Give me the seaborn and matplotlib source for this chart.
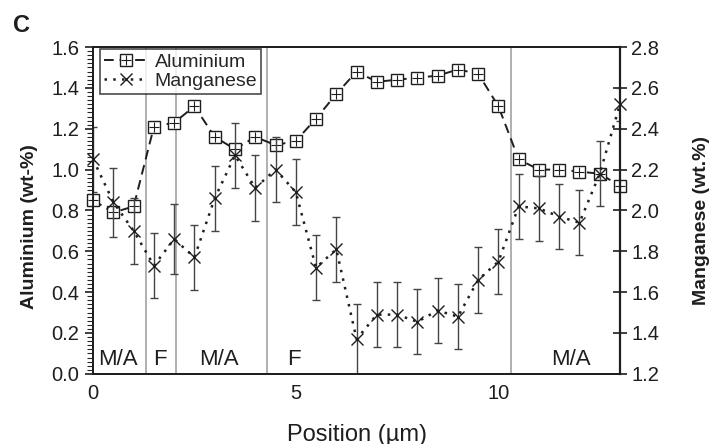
import numpy as np
import pandas as pd
import matplotlib
matplotlib.use("Agg")
import matplotlib.pyplot as plt
from matplotlib.lines import Line2D
from matplotlib.ticker import MultipleLocator, FormatStrFormatter
import seaborn as sns

sns.set_theme(style="white")
plt.rcParams['font.family'] = ['Liberation Sans', 'DejaVu Sans']

position = [0, 0.5, 1, 1.5, 2, 2.5, 3, 3.5, 4, 4.5, 5, 5.5, 6, 6.5, 7, 7.5, 8,
            8.5, 9, 9.5, 10, 10.5, 11, 11.5, 12, 12.5, 13]
aluminium = [0.85, 0.79, 0.82, 1.21, 1.23, 1.31, 1.16, 1.10, 1.16, 1.12, 1.14,
             1.25, 1.37, 1.48, 1.43, 1.44, 1.45, 1.46, 1.49, 1.47, 1.31, 1.05,
             1.00, 1.00, 0.99, 0.98, 0.92]
manganese = [2.25, 2.04, 1.90, 1.73, 1.86, 1.77, 2.06, 2.27, 2.11, 2.20, 2.09,
             1.72, 1.81, 1.37, 1.49, 1.49, 1.455, 1.51, 1.48, 1.66, 1.75, 2.02,
             2.01, 1.97, 1.94, 2.18, 2.52]
mn_error = [0.16, 0.17, 0.16, 0.16, 0.17, 0.16, 0.16, 0.16, 0.16, 0.16, 0.16,
            0.16, 0.16, 0.17, 0.16, 0.16, 0.16, 0.16, 0.16, 0.16, 0.16, 0.16,
            0.16, 0.16, 0.16, 0.16, 0.08]
boundaries = [1.3, 2.05, 4.3, 10.3]
region_labels = ["M/A", "F", "M/A", "F", "M/A"]
region_x = [0.6, 1.65, 3.1, 4.95, 11.8]

df = pd.DataFrame({"position": position, "aluminium": aluminium,
                   "manganese": manganese, "err": mn_error})

INK = "#1e1e1e"
fig = plt.figure(figsize=(7.11, 4.44), dpi=100)
ax = fig.add_axes([0.131, 0.158, 0.741, 0.736])
ax2 = ax.twinx()

TICK_FS = 14.5
# boundaries
for b in boundaries:
    ax.axvline(b, color="#9a9a9a", lw=1.1, zorder=1)

# Aluminium
sns.lineplot(data=df, x="position", y="aluminium", ax=ax, color=INK,
             lw=1.4, linestyle=(0, (5, 3)), marker="s",
             markersize=9, markerfacecolor="white", markeredgecolor=INK,
             markeredgewidth=1.0, zorder=4, legend=False, clip_on=False)
ax.plot(df["position"], df["aluminium"], ls="none", marker="+", ms=7,
        mew=0.8, color=INK, zorder=5, clip_on=False)

# Manganese
ax2.errorbar(df["position"], df["manganese"], yerr=df["err"], fmt="none",
             ecolor="#444444", elinewidth=1.0, capsize=3, capthick=1.0,
             zorder=2)
sns.lineplot(data=df, x="position", y="manganese", ax=ax2, color=INK,
             lw=1.8, linestyle=(0, (1, 2.5)), marker="x", markersize=8,
             markeredgewidth=1.0, markeredgecolor=INK, zorder=3,
             legend=False, clip_on=False)

for lbl, xx in zip(region_labels, region_x):
    ax.text(xx, 0.045, lbl, ha="center", va="baseline", fontsize=16,
            color=INK)

ax.set_xlim(0, 13)
ax.set_ylim(0, 1.6)
ax2.set_ylim(1.2, 2.8)
ax.xaxis.set_major_locator(MultipleLocator(5))
ax.xaxis.set_minor_locator(MultipleLocator(1))
ax.yaxis.set_major_locator(MultipleLocator(0.2))
ax.yaxis.set_minor_locator(MultipleLocator(0.02))
ax2.yaxis.set_major_locator(MultipleLocator(0.2))
ax.yaxis.set_major_formatter(FormatStrFormatter("%.1f"))
ax2.yaxis.set_major_formatter(FormatStrFormatter("%.1f"))

ax.tick_params(axis="x", which="major", direction="inout", length=9, width=1.2,
               labelsize=TICK_FS, pad=3, colors=INK)
ax.tick_params(axis="x", which="minor", direction="inout", length=9, width=1.2)
ax.tick_params(axis="y", which="major", direction="out", length=6, width=1.2,
               labelsize=TICK_FS, colors=INK, pad=4)
ax.tick_params(axis="y", which="minor", direction="out", length=4, width=0.8)
ax2.tick_params(axis="y", which="major", direction="inout", length=10,
                width=1.2, labelsize=TICK_FS, colors=INK, pad=3)

for a in (ax, ax2):
    for sp in a.spines.values():
        sp.set_color(INK)
        sp.set_linewidth(1.3)
ax2.spines["right"].set_linewidth(1.6)

ax.set_xlabel("Position (µm)", fontsize=17, color=INK)
ax.xaxis.set_label_coords(0.5, -0.152)
ax.set_ylabel("Aluminium (wt-%)", fontsize=14, fontweight="bold", color=INK)
ax.yaxis.set_label_coords(-0.104, 0.45)
ax2.set_ylabel("Manganese (wt.%)", fontsize=14, fontweight="bold", color=INK)
ax2.yaxis.set_label_coords(1.138, 0.468)

fig.text(0.018, 0.928, "C", fontsize=17, fontweight="bold", color=INK)

h1 = (Line2D([], [], color=INK, lw=1.4, ls=(0, (5, 3)), marker="s",
             ms=9, mfc="white", mec=INK, mew=1.0),
      Line2D([], [], ls="none", marker="+", ms=7, mew=0.8, color=INK))
h2 = Line2D([], [], color=INK, lw=1.8, ls=(0, (1, 2.5)), marker="x",
            ms=8, mew=1.0)
leg = ax2.legend([h1, h2], ["Aluminium", "Manganese"], loc="upper left",
                 bbox_to_anchor=(0.01, 1.0), fontsize=14, frameon=True,
                 fancybox=False, edgecolor=INK, handlelength=2.2,
                 handletextpad=0.4, borderpad=0.2, labelspacing=0.1,
                 borderaxespad=0.1)
leg.get_frame().set_linewidth(1.2)
leg.set_zorder(10)

fig.savefig("out.png", dpi=100, facecolor="white")
